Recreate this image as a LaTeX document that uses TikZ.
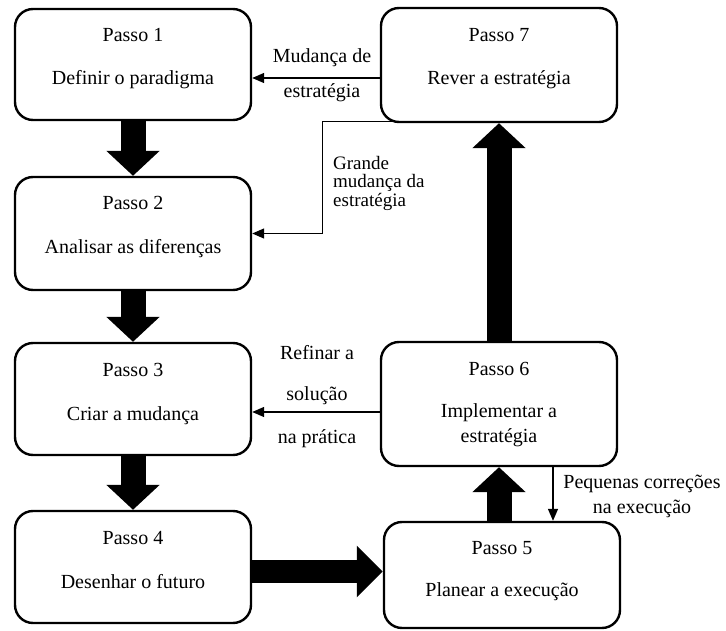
\documentclass[tikz,border=0pt]{standalone}
\usepackage{fontspec}
\setmainfont{Liberation Serif}
\usetikzlibrary{arrows.meta,calc}
\begin{document}
\begin{tikzpicture}[x=1pt,y=-1pt,
  stepbox/.style={draw, line width=2.4pt, rounded corners=18pt, inner sep=0pt, minimum width=236pt},
  txt/.style={font=\fontsize{20}{24}\selectfont, inner sep=0pt, anchor=base},
  lbl/.style={txt},
  fat/.style={line width=25pt, -{Triangle[length=25pt,width=52pt]}},
  fatright/.style={line width=23pt, -{Triangle[length=26pt,width=50pt]}},
  link/.style={line width=1.4pt, -{Triangle[length=12pt,width=10pt]}}
]
\useasboundingbox (0,0) rectangle (726,631);

% step boxes
\node[stepbox, minimum height=111pt] (b1) at (133,64.5) {};
\node[stepbox, minimum height=113pt] (b2) at (133,233.5) {};
\node[stepbox, minimum height=112pt] (b3) at (133,399) {};
\node[stepbox, minimum height=112pt] (b4) at (133,567) {};
\node[stepbox, minimum height=106pt] (b5) at (502,575) {};
\node[stepbox, minimum height=124pt] (b6) at (499,404) {};
\node[stepbox, minimum height=114pt] (b7) at (499,65) {};

% box texts (multi-line nodes sit on the baseline of their last line)
\node[txt] (t1a) at (133,41.5) {Passo 1};
\node[txt] (t1b) at (133,85) {Definir o paradigma};
\node[txt] (t2a) at (133,210) {Passo 2};
\node[txt] (t2b) at (133,254) {Analisar as diferenças};
\node[txt] (t3a) at (133,376) {Passo 3};
\node[txt] (t3b) at (133,420) {Criar a mudança};
\node[txt] (t4a) at (133,544) {Passo 4};
\node[txt] (t4b) at (133,588) {Desenhar o futuro};
\node[txt] (t5a) at (502,554) {Passo 5};
\node[txt] (t5b) at (502,596) {Planear a execução};
\node[txt] (t6a) at (499,375) {Passo 6};
\node[txt, align=center, font=\fontsize{20}{25}\selectfont] (t6b) at (499,442) {Implementar a\\estratégia};
\node[txt] (t7a) at (499,41.5) {Passo 7};
\node[txt] (t7b) at (499,85) {Rever a estratégia};

% main sequence (thick arrows)
\draw[fat] (b1.south) -- (b2.north);
\draw[fat] (b2.south) -- (b3.north);
\draw[fat] (b3.south) -- (b4.north);
\coordinate (h4) at ([yshift=-4.5pt]b4.east);
\draw[fatright] (h4) -- (h4 -| b5.west);
\draw[fat] (b5.north -| b6.south) -- (b6.south);
\draw[fat] (b6.north) -- (b7.south);

% feedback loops (thin arrows)
\coordinate (r7) at ([yshift=-13pt]b7.west);
\draw[link] (r7) -- (r7 -| b1.east);
\coordinate (s7) at ([xshift=17pt,yshift=1.5pt]b7.south west);
\coordinate (k2) at ([xshift=70pt]b2.east);
\draw[link] (s7) -| (k2) -- (b2.east);
\coordinate (r6) at ([yshift=-8pt]b6.west);
\draw[link] (r6) -- (r6 -| b3.east);
\coordinate (d6) at ([xshift=54pt]b6.south);
\draw[link] (d6) -- (d6 |- b5.north);

% loop labels
\node[lbl] (m1) at (322,63) {Mudança de};
\node[lbl] (m2) at (322,98) {estratégia};
\node[lbl, anchor=base west, align=left, font=\fontsize{19}{18.5}\selectfont] (g1) at (333,206.5) {Grande\\mudança da\\estratégia};
\node[lbl] (f1) at (317,359) {Refinar a};
\node[lbl] (f2) at (317,400) {solução};
\node[lbl] (f3) at (317,443) {na prática};
\node[lbl, align=center, font=\fontsize{20}{25}\selectfont] (p1) at (642,513) {Pequenas correções\\na execução};
\end{tikzpicture}
\end{document}
